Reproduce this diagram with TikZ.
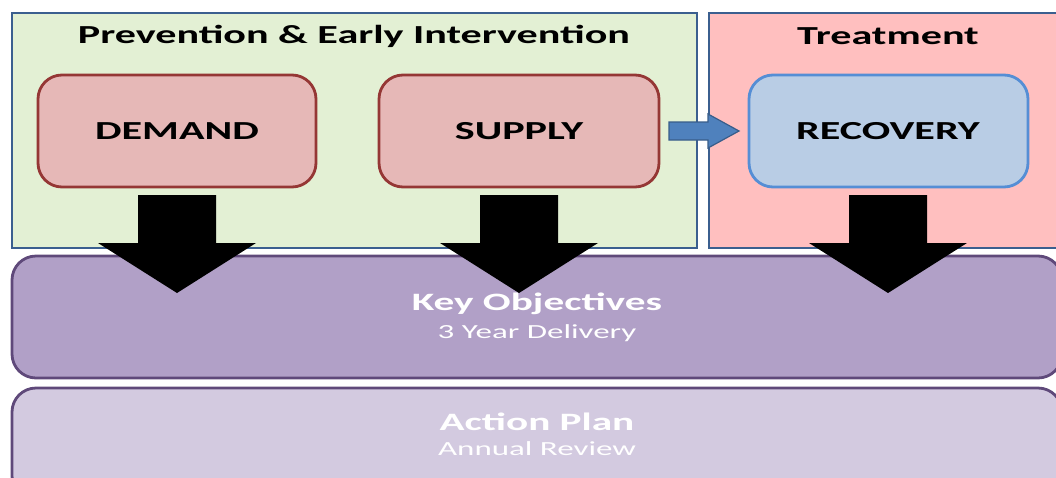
\documentclass[tikz,border=0pt]{standalone}
\usepackage{fontspec}
\newfontfamily\wide[FakeStretch=1.62]{Carlito}
\newfontfamily\wider[FakeStretch=1.65]{Carlito}
\usetikzlibrary{calc}
\definecolor{panelblue}{HTML}{3B5F8F}
\definecolor{greenfill}{HTML}{E3F0D4}
\definecolor{pinkfill}{HTML}{FFBFBF}
\definecolor{redfill}{HTML}{E6B8B7}
\definecolor{redline}{HTML}{953735}
\definecolor{bluefill}{HTML}{B9CDE5}
\definecolor{blueline}{HTML}{558ED5}
\definecolor{arrowfill}{HTML}{4F81BD}
\definecolor{arrowline}{HTML}{385D8A}
\definecolor{purpfill}{HTML}{B1A0C7}
\definecolor{purpline}{HTML}{5F497A}
\definecolor{lavfill}{HTML}{D3CAE0}
\tikzset{
  panel/.style={draw=panelblue, line width=2.8pt},
  box/.style={rounded corners=24pt, line width=2.8pt},
  boxtext/.style={font=\wide\bfseries\fontsize{26}{30}\selectfont, text=black},
  band/.style={rounded corners=24pt, line width=2.8pt, draw=purpline},
  bandtitle/.style={font=\wider\bfseries\fontsize{25}{30}\selectfont, text=white},
  bandsub/.style={font=\wider\fontsize{20}{24}\selectfont, text=white},
  bigarrow/.style={fill=black},
}
\begin{document}
\begin{tikzpicture}[x=1pt,y=-1pt]
\useasboundingbox (0,0) rectangle (1056,477);
% panels
\draw[panel, fill=greenfill] (12,13) rectangle (697,248);
\draw[panel, fill=pinkfill] (709,13) rectangle (1070,248);
\node[boxtext] (ptitle) at (354,36) {Prevention \& Early Intervention};
\node[boxtext] (ttitle) at (888,36) {Treatment};
% boxes
\draw[box, draw=redline, fill=redfill] (38,75) rectangle (316,187);
\draw[box, draw=redline, fill=redfill] (379,75) rectangle (659,187);
\draw[box, draw=blueline, fill=bluefill] (749,75) rectangle (1028,187);
\node[boxtext] (demand) at (177,131) {DEMAND};
\node[boxtext] (supply) at (519,131) {SUPPLY};
\node[boxtext] (recovery) at (888,131) {RECOVERY};
\coordinate (demandS) at (177,187);
\coordinate (supplyS) at (519,187);
\coordinate (recoveryS) at (888,187);
\coordinate (supplyE) at (659,131);
\coordinate (recoveryW) at (749,131);
% bands
\draw[band, fill=purpfill] (12,256) rectangle (1062,378);
\draw[band, fill=lavfill] (12,388) rectangle (1062,500);
\node[bandtitle] (ko) at (537,304) {Key Objectives};
\node[bandsub] (ko2) at (537,333) {3 Year Delivery};
\node[bandtitle] (ap) at (537,422) {Action Plan};
\node[bandsub] (ap2) at (537,449) {Annual Review};
% black arrows
\foreach \s in {demandS,supplyS,recoveryS}{
  \fill[bigarrow, shift={(\s)}] (-39,8) -- (39,8) -- (39,56) -- (79,56) -- (0,106) -- (-79,56) -- (-39,56) -- cycle;
}
% blue arrow
\draw[fill=arrowfill, draw=arrowline, line width=1.2pt, shift={(supplyE)}]
  (10,-9) -- (49,-9) -- (49,-17) -- (80,0) -- (49,17) -- (49,9) -- (10,9) -- cycle;
\end{tikzpicture}
\end{document}
